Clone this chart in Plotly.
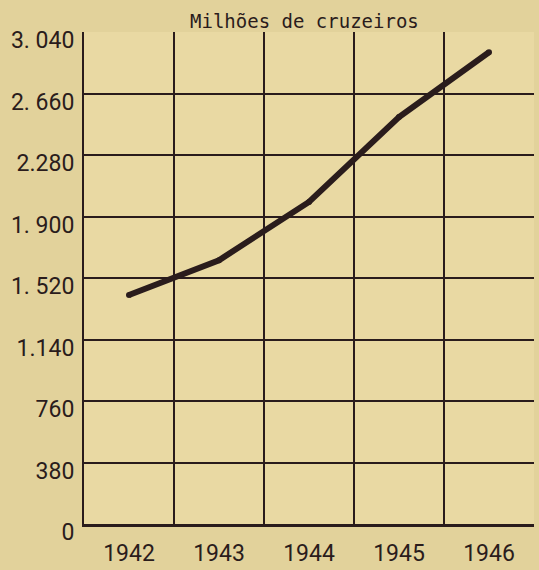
"""
Milhões de cruzeiros, 1942-1946 (gráfico de linha)
"""

import plotly.graph_objects as go

# dados
anos = ["1942", "1943", "1944", "1945", "1946"]
valores = [1415, 1630, 1990, 2515, 2915]

y_ticks = [0, 380, 760, 1140, 1520, 1900, 2280, 2660, 3040]
y_labels = ["0", "380", "760", "1.140", "1. 520", "1. 900", "2.280", "2. 660", "3. 040"]

tinta = "#2a1c1c"
papel = "#e2d29b"
fundo = "#e9d9a3"
fonte = "Roboto, DejaVu Sans, sans-serif"

fig = go.Figure()

fig.add_trace(go.Scatter(
    x=anos,
    y=valores,
    mode="lines+markers",
    line=dict(color=tinta, width=6),
    marker=dict(color=tinta, size=6),
    showlegend=False,
    hoverinfo="skip"
))

fig.add_annotation(
    text="Milhões de cruzeiros",
    xref="paper", yref="paper",
    x=0.49, y=1.0,
    xanchor="center", yanchor="bottom",
    yshift=-2,
    showarrow=False,
    font=dict(family="DejaVu Sans Mono, monospace", size=19, color=tinta)
)

fig.update_layout(
    width=539,
    height=570,
    margin=dict(l=84, r=5, t=32, b=46, autoexpand=False),
    paper_bgcolor=papel,
    plot_bgcolor=fundo,
    font=dict(family=fonte, size=23, color=tinta),
    xaxis=dict(
        type="category",
        range=[-0.5, 4.5],
        tickson="boundaries",
        ticks="",
        showgrid=True,
        gridcolor=tinta,
        gridwidth=1.5,
        showline=True,
        linecolor=tinta,
        linewidth=3,
        ticklabelstandoff=6,
        zeroline=False,
        automargin=False
    ),
    yaxis=dict(
        range=[0, 3040],
        tickmode="array",
        tickvals=y_ticks,
        ticktext=y_labels,
        ticks="",
        showgrid=True,
        gridcolor=tinta,
        gridwidth=1.5,
        showline=True,
        linecolor=tinta,
        linewidth=2,
        zeroline=False,
        ticklabelshift=8,
        ticklabelstandoff=3,
        automargin=False
    )
)

# sem margem no body, para a figura ocupar a janela toda
fig.write_html(
    "out.html",
    config={"displayModeBar": False},
    post_script="document.body.style.margin='0';"
)
